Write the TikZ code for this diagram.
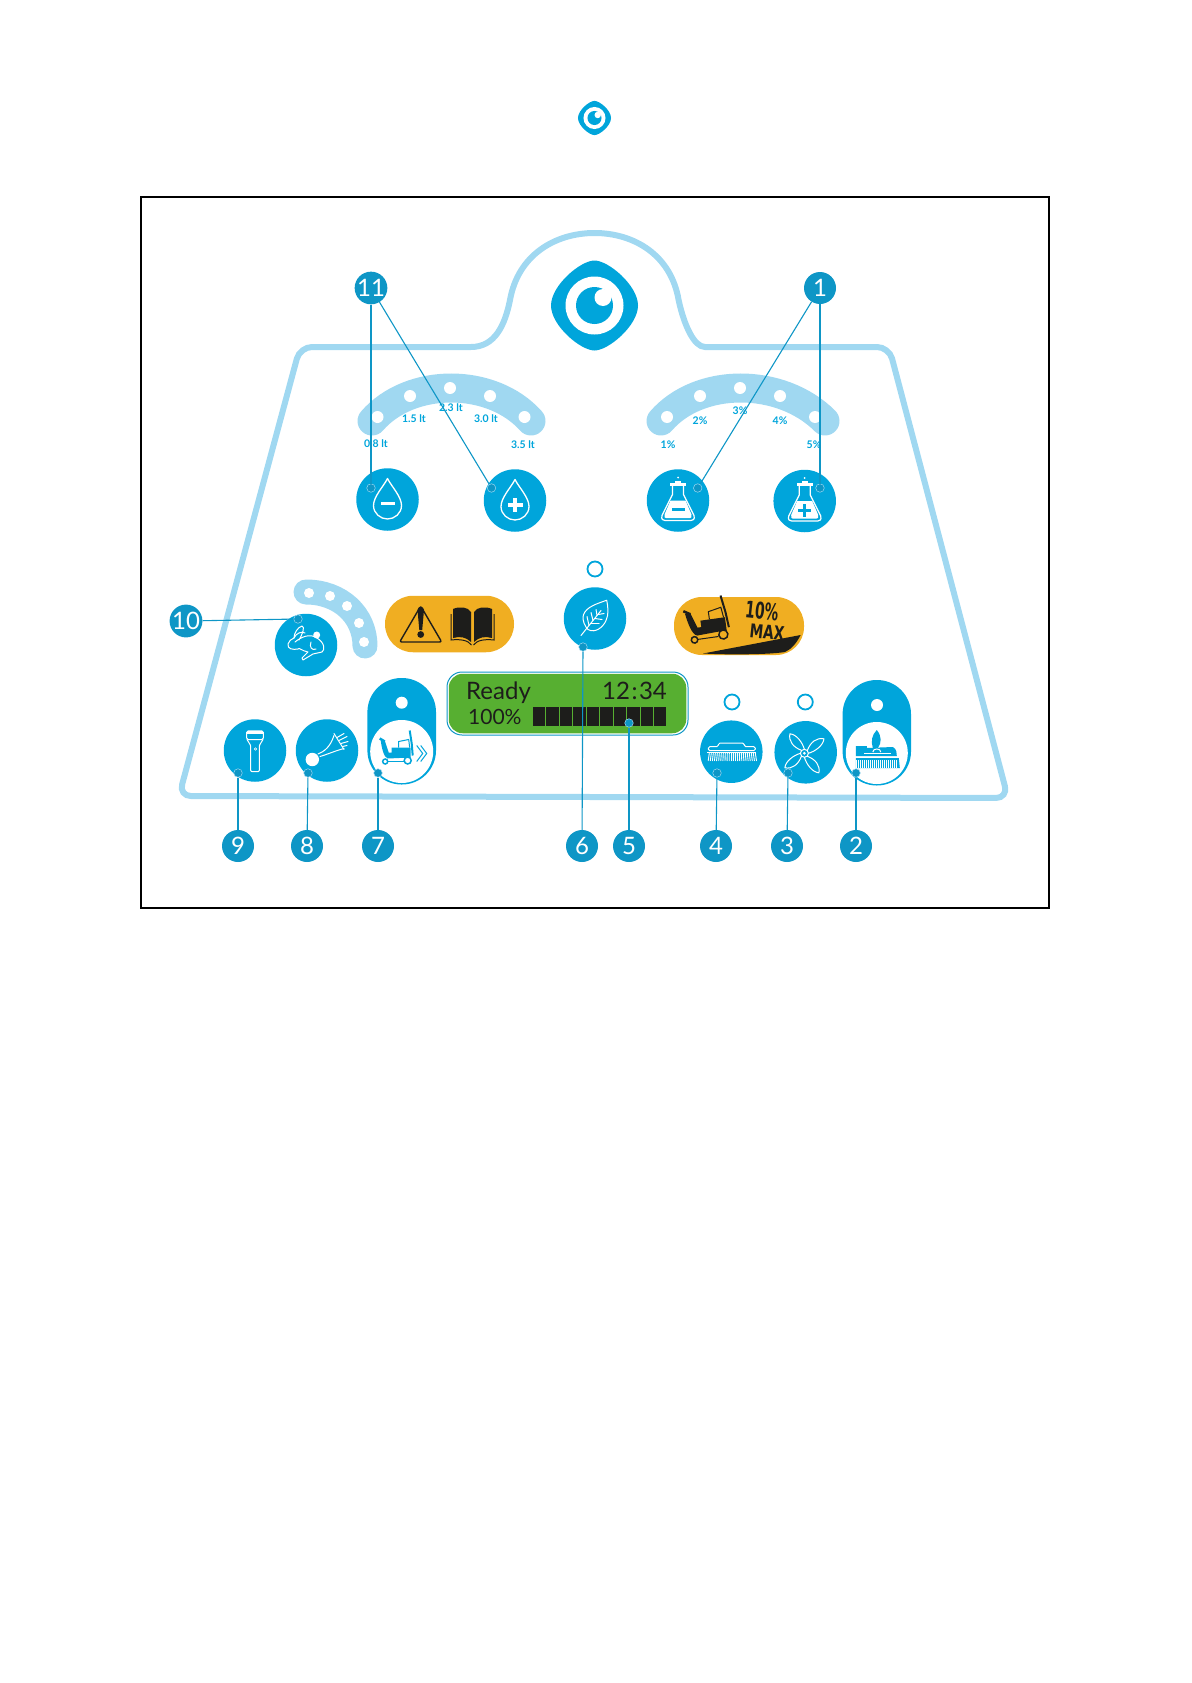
\documentclass[tikz,border=0pt]{standalone}
\usepackage{fontspec}
\setmainfont{Lato}
\newfontfamily\slopefont{DejaVu Sans}
\definecolor{btnblue}{HTML}{00A5DB}
\definecolor{badgeblue}{HTML}{0E96C6}
\definecolor{panelblue}{HTML}{A0D8F1}
\definecolor{amberpill}{HTML}{F0AE22}
\definecolor{lcdgreen}{HTML}{57AF31}
\definecolor{inkdark}{HTML}{1D1D1B}
\tikzset{
  btn/.style={circle,fill=btnblue,minimum size=62.5pt,inner sep=0pt},
  badge/.style={circle,fill=badgeblue,text=white,minimum size=32pt,inner sep=0pt,font=\fontsize{24}{24}\selectfont},
  leaderdot/.style={circle,fill=badgeblue,draw=panelblue,line width=0.5pt,minimum size=8.5pt,inner sep=0pt},
  leader/.style={draw=badgeblue,line width=1.1pt},
  led/.style={circle,draw=btnblue,line width=1.8pt,minimum size=15pt,inner sep=0pt},
  amber/.style={rectangle,rounded corners=28pt,fill=amberpill,inner sep=0pt},
  ltlabel/.style={text=btnblue,inner sep=0pt,font=\fontsize{10.5}{10.5}\selectfont\bfseries},
  lcdtext/.style={text=inkdark,inner sep=0pt,anchor=base west,font=\fontsize{24}{24}\selectfont},
  slopetext/.style={inner sep=0pt,transform shape,rotate=-6,text=inkdark},
  iconline/.style={draw=white,line width=1pt,line join=round,line cap=round},
}
% eye logo, drawn 90 wide
\newcommand{\eyelogo}{
  \fill[btnblue] (0,-45) .. controls (14,-45) and (43.5,-20) .. (43.5,0) .. controls (43.5,20) and (14,45) .. (0,45)
    .. controls (-14,45) and (-43.5,20) .. (-43.5,0) .. controls (-43.5,-20) and (-14,-45) .. cycle;
  \fill[white] (0,0) circle (29);
  \fill[btnblue] (0,0) circle (18.5);
  \fill[white] (8.5,-8) circle (8.5);
}
% drop outline
\newcommand{\dropicon}{
  \draw[iconline,line width=1.3pt] (0,-21) .. controls (4,-13) and (14,-3) .. (14,6) .. controls (14,14) and (7,19.5) .. (0,19.5)
    .. controls (-7,19.5) and (-14,14) .. (-14,6) .. controls (-14,-3) and (-4,-13) .. cycle;
}
% flask outline
\newcommand{\flaskicon}{
  \draw[iconline,line width=1.2pt] (-5.5,-15) -- (-5.5,-6) -- (-16,15) .. controls (-17,19) and (-15,20) .. (-13,20) -- (13,20)
    .. controls (15,20) and (17,19) .. (16,15) -- (5.5,-6) -- (5.5,-15);
  \fill[white] (-8,-18) rectangle (8,-15);
  \fill[white] (-3,-20) rectangle (3,-18);
  \fill[white] (0,-23) circle (1);
  \fill[white] (-7.5,0) -- (7.5,0) -- (13.5,14) .. controls (14,17) and (13,17.5) .. (12,17.5) -- (-12,17.5) .. controls (-13,17.5) and (-14,17) .. (-13.5,14) -- cycle;
}
% ride-on machine
\newcommand{\scootericon}[2]{
  \draw[#1,line width=2.5pt] (-22,-13) -- (-17,-10);
  \fill[#1] (-21,-11) -- (-17,-11) -- (-13,1) -- (-10,1) -- (-10,-4) -- (9,-4) -- (9,6) -- (-14,7) .. controls (-18,6) and (-20,-4) .. cycle;
  \draw[#1,line width=1pt] (-3,-4) -- (-3,-10) -- (7,-12) -- (8,-4);
  \draw[#1,line width=2pt] (8,-21) -- (10,-8) -- (11,4);
  \draw[#1,line width=1pt] (-14,10) -- (2,10);
  \filldraw[fill=#2,draw=#1,line width=1.5pt] (-16.5,10) circle (2.5);
  \filldraw[fill=#2,draw=#1,line width=1.5pt] (6,9) circle (3.5);
}
\begin{document}
\begin{tikzpicture}[x=1pt,y=-1pt]
  \useasboundingbox (0,0) rectangle (1191,1683);

  % Frame and small logo
  \draw[line width=2pt] (141,197) rectangle (1049,908);
  \begin{scope}[shift={(594.5,118)},scale=0.38]
    \eyelogo
  \end{scope}

  % Panel outline
  \draw[panelblue,line width=6pt] (471,347) [rounded corners=12pt] -- (300,347) -- (179,796) -- (1008,798) -- (889,347) -- (717,347) [sharp corners]
    .. controls (694,347) and (684,325) .. (678.6,300) .. controls (671,255) and (634,233) .. (594.5,233)
    .. controls (555,233) and (518,255) .. (510,300) .. controls (505,325) and (495,347) .. (471,347);
  \begin{scope}[shift={(594.5,305.5)}]
    \eyelogo
  \end{scope}

  % Scales
  \draw[panelblue,line width=29pt,line cap=round] (372,421) .. controls (410,377) and (492,377) .. (531,421);
  \draw[panelblue,line width=29pt,line cap=round] (661,421) .. controls (699,377) and (781,377) .. (825,421);
  \draw[panelblue,line width=25pt,line cap=round] (306,592) .. controls (340,592) and (365,615) .. (365,646);
  \foreach \x/\y in {377.5/417,410/396,450/388,490/396,524.5/417,667/417,700/396,740/388,780/396,815/417}
    \fill[white] (\x,\y) circle (6);
  \foreach \x/\y in {309/593,330/596,347/606,359/623,364/642}
    \fill[white] (\x,\y) circle (5);
  \node[ltlabel] (l08) at (376,444) {0.8 lt};
  \node[ltlabel] (l15) at (414,419) {1.5 lt};
  \node[ltlabel] (l23) at (451,408) {2.3 lt};
  \node[ltlabel] (l30) at (486,419) {3.0 lt};
  \node[ltlabel] (l35) at (523,445) {3.5 lt};
  \node[ltlabel] (p1) at (668,445) {1\%};
  \node[ltlabel] (p2) at (700,421) {2\%};
  \node[ltlabel] (p3) at (740,411) {3\%};
  \node[ltlabel] (p4) at (780,421) {4\%};
  \node[ltlabel] (p5) at (814,445) {5\%};

  % Buttons
  \node[btn] (dropminus) at (387.5,499.5) {};
  \node[btn] (dropplus) at (515,500.5) {};
  \node[btn] (flaskminus) at (678,500.5) {};
  \node[btn] (flaskplus) at (804.7,501) {};
  \node[btn] (rabbit) at (306,645) {};
  \node[btn] (leaf) at (595,618.5) {};
  \node[btn] (torch) at (255,750.5) {};
  \node[btn] (horn) at (327,750.5) {};
  \node[btn] (brush) at (731.3,751.7) {};
  \node[btn] (fan) at (805.7,752.3) {};
  \node[led] (ledleaf) at (595,569) {};
  \node[led] (ledbrush) at (732,702) {};
  \node[led] (ledfan) at (805.3,702) {};

  % Tall buttons
  \fill[btnblue,rounded corners=34pt] (367.4,678) rectangle (436,784.5);
  \fill[white] (401.7,751.5) circle (31.5);
  \fill[white] (401.7,702.7) circle (6);
  \fill[btnblue,rounded corners=34pt] (842.6,680) rectangle (911,785.5);
  \fill[white] (876.8,753) circle (31);
  \fill[white] (877,705) circle (6);

  % Drop and flask icons
  \begin{scope}[shift={(387.5,499.5)}]
    \dropicon
    \fill[white] (-7,2) rectangle (7,5.5);
  \end{scope}
  \begin{scope}[shift={(515,500.5)}]
    \dropicon
    \fill[white] (-7.5,2.5) rectangle (7.5,6);
    \fill[white] (-1.7,-3) rectangle (1.7,11.5);
  \end{scope}
  \begin{scope}[shift={(678,500.5)}]
    \flaskicon
    \fill[btnblue] (-6.5,7.5) rectangle (6.5,10.5);
  \end{scope}
  \begin{scope}[shift={(804.7,501)}]
    \flaskicon
    \fill[btnblue] (-6.5,7.5) rectangle (6.5,10.5);
    \fill[btnblue] (-1.5,2.5) rectangle (1.5,15.5);
  \end{scope}

  % Rabbit
  \begin{scope}[shift={(306,645)}]
    \draw[iconline] (-11,-3) .. controls (-5,-8) and (4,-12) .. (11,-7) .. controls (19,-2) and (19,5) .. (16,7) -- (7,9) -- (-3,15) -- (-4,13) -- (2,7)
      .. controls (-4,6) and (-7,2) .. (-8,4) .. controls (-13,5) and (-19,4) .. (-18,-1) .. controls (-17,-4) and (-15,-6) .. (-12,-7)
      .. controls (-12,-12) and (-8,-18) .. (-4,-19) .. controls (-1,-18) and (-3,-12) .. (-7,-5);
    \draw[iconline] (-12,-7) .. controls (-10,-12) and (-4,-14) .. (-1,-12);
    \draw[iconline] (5,-3) .. controls (3,2) and (6,6) .. (10,4);
    \fill[white] (10.7,-10) circle (3.5);
  \end{scope}

  % Warning pill
  \node[amber,minimum width=129pt,minimum height=56.5pt] (warnpill) at (449.5,624) {};
  \draw[inkdark,line width=1.4pt,line join=round,rounded corners=2pt] (420.7,606) -- (441.7,642) -- (399.7,642) -- cycle;
  \fill[inkdark] (417.5,610) .. controls (417.5,606) and (424,606) .. (424,610) -- (422.2,630) -- (419.3,630) -- cycle;
  \fill[inkdark] (420.7,634.5) circle (3.4);
  \fill[inkdark] (453,609) .. controls (460,606) and (468,607) .. (471,612) -- (471,642) .. controls (466,637) and (460,636) .. (453,638) -- cycle;
  \fill[inkdark] (492,609) .. controls (485,606) and (477,607) .. (474,612) -- (474,642) .. controls (479,637) and (485,636) .. (492,638) -- cycle;
  \draw[inkdark,line width=1pt] (451,614) -- (451,640) .. controls (460,639) and (468,640) .. (471.5,645);
  \draw[inkdark,line width=1pt] (494,614) -- (494,640) .. controls (485,639) and (477,640) .. (473.5,645);

  % Slope pill
  \node[amber,minimum width=130pt,minimum height=58pt] (slopepill) at (739,626) {};
  \fill[inkdark] (703,653.5) -- (800.7,635) .. controls (797,642) and (792,649) .. (785,652) .. controls (770,654.5) and (730,655) .. cycle;
  \begin{scope}[shift={(714,624)},rotate=8,scale=1.3]
    \scootericon{inkdark}{amberpill}
  \end{scope}
  \node[slopetext,xscale=0.6,font=\slopefont\fontsize{23}{23}\selectfont\bfseries] (tenpct) at (762,610.5) {10\%};
  \node[slopetext,xscale=0.72,font=\slopefont\fontsize{19}{19}\selectfont\bfseries] (maxtxt) at (767,632) {MAX};

  % Display
  \node[rectangle,rounded corners=15pt,draw=badgeblue,line width=1pt,minimum width=241pt,minimum height=63pt,inner sep=0pt] (lcdframe) at (567.5,703.5) {};
  \node[rectangle,rounded corners=14pt,fill=lcdgreen,minimum width=237.5pt,minimum height=59.5pt,inner sep=0pt] (lcd) at (567.5,703.5) {};
  \node[lcdtext] (ready) at (466,699) {Ready};
  \node[lcdtext] (clock) at (602,699) {12\hspace{1.5pt}:\hspace{1.5pt}34};
  \node[lcdtext,font=\fontsize{21}{21}\selectfont] (pct) at (468,724) {100\%};
  \foreach \i in {0,...,9}
    \fill[inkdark] (533+13.45*\i,707) rectangle +(12.4,19);

  % Torch, horn, brush, fan, leaf icons
  \begin{scope}[shift={(255,750.5)}]
    \draw[iconline,rounded corners=1.5pt] (-8.3,-19.7) rectangle (8.3,-11);
    \fill[white] (-8.3,-19.7) rectangle (8.3,-16.8);
    \draw[iconline,rounded corners=1pt] (-8,-11) -- (-4.3,-5) -- (-4.3,21) -- (4.3,21) -- (4.3,-5) -- (8,-11);
    \draw[iconline,line width=0.6pt] (0.5,-1.5) circle (1.3);
  \end{scope}
  \begin{scope}[shift={(327,750.5)}]
    \fill[white] (-14.7,9) circle (6.7);
    \draw[iconline] (-9,3.5) .. controls (-3,1) and (3,-3) .. (7,-15);
    \draw[iconline] (-7,6) .. controls (0,4) and (9,0) .. (17,-2);
    \draw[iconline] (7,-17) -- (17,-1);
    \draw[iconline] (10,-13) -- (17,-17);
    \draw[iconline] (12,-10) -- (20,-14);
    \draw[iconline] (14,-7) -- (21,-9);
    \draw[iconline] (15.5,-4) -- (20,-5);
  \end{scope}
  \begin{scope}[shift={(731.3,751.7)}]
    \draw[iconline,rounded corners=1.5pt] (-23,-1) -- (-23,-5) -- (-13,-5) -- (-13,-8.5) -- (13,-8.5) -- (13,-5) -- (24,-5) -- (24,-1) -- cycle;
    \fill[white] (-24,0) rectangle (25,1.5);
    \foreach \i in {-11,...,12}
      \draw[iconline,line width=0.9pt] (\i*2,1.5) -- (\i*2.1,9);
  \end{scope}
  \begin{scope}[shift={(804.4,753.3)}]
    \foreach \a in {0,90,180,270}
      \draw[iconline,rotate=\a] (3,-3) .. controls (6,-11) and (12,-16) .. (19.5,-14.5) .. controls (19,-8) and (11,-2) .. (4,0);
    \filldraw[fill=btnblue,draw=white,line width=1pt] (0,0) circle (4);
    \fill[white] (0,0) circle (1.5);
  \end{scope}
  \begin{scope}[shift={(595,618.5)}]
    \draw[iconline] (11.7,-18.3) .. controls (3,-15) and (-9,-12) .. (-11.7,-3.3) .. controls (-13,2) and (-10,8) .. (-7,11)
      .. controls (0,15) and (8,9) .. (11,2) .. controls (14,-4) and (13,-12) .. cycle;
    \draw[iconline] (-14,17) -- (6,-8);
    \draw[iconline] (-6,7) -- (-8,-2);
    \draw[iconline] (-2,2) -- (-4,-6);
    \draw[iconline] (2,-3) -- (1,-9);
    \draw[iconline] (-4,5) -- (4,5);
    \draw[iconline] (0,0) -- (7,1);
    \draw[iconline] (3,-4) -- (9,-5);
  \end{scope}

  % Machine and brush-with-leaf icons
  \begin{scope}[shift={(401.7,751.5)}]
    \scootericon{btnblue}{white}
    \draw[btnblue,line width=1pt] (15,-6) -- (21,2) -- (15,10);
    \draw[btnblue,line width=1pt] (19,-6) -- (25,2) -- (19,10);
  \end{scope}
  \begin{scope}[shift={(876.8,753)}]
    \fill[btnblue] (0,-23) .. controls (5,-17) and (5,-10) .. (1,-5) -- (-4,-5) .. controls (-6,-12) and (-5,-18) .. cycle;
    \fill[btnblue] (-21,-7) -- (-10,-7) -- (-10,-5) -- (16,-6) .. controls (20,-4) and (20,0) .. (20,3) -- (-21,3) -- cycle;
    \draw[white,line width=1pt] (-4,-1) .. controls (-4,-5) and (4,-5) .. (4,-1);
    \fill[white] (-13,0) rectangle (14,1.2);
    \fill[btnblue] (-21,5) -- (22,5) -- (23,15) -- (-21,15) -- cycle;
    \foreach \i in {-10,...,10}
      \draw[white,line width=0.8pt] (\i*2,7) -- (\i*2,15);
  \end{scope}

  % Numbered badges
  \node[badge] (b11) at (371,288) {11};
  \node[badge] (b1) at (820,288) {1};
  \node[badge] (b10) at (186,621) {10};
  \node[badge] (b9) at (238,846) {9};
  \node[badge] (b8) at (307,846) {8};
  \node[badge] (b7) at (378,846) {7};
  \node[badge] (b6) at (582,846) {6};
  \node[badge] (b5) at (629,846) {5};
  \node[badge] (b4) at (716,846) {4};
  \node[badge] (b3) at (787,846) {3};
  \node[badge] (b2) at (856,846) {2};

  % Leader ends
  \node[leaderdot] (d11a) at (371,488) {};
  \node[leaderdot] (d11b) at (491.5,488) {};
  \node[leaderdot] (d1a) at (697.7,488) {};
  \node[leaderdot] (d1b) at (820,488) {};
  \node[leaderdot] (d10) at (298,619) {};
  \node[leaderdot] (d9) at (238,773) {};
  \node[leaderdot] (d8) at (308,773) {};
  \node[leaderdot] (d7) at (378,773) {};
  \node[leaderdot] (d6) at (583,647) {};
  \node[leaderdot] (d5) at (629,723) {};
  \node[leaderdot] (d4) at (717,773) {};
  \node[leaderdot] (d3) at (788,773) {};
  \node[leaderdot] (d2) at (856,773) {};

  % Leaders
  \draw[leader] (b11) -- (d11a);
  \draw[leader] (b11) -- (d11b);
  \draw[leader] (b1) -- (d1a);
  \draw[leader] (b1) -- (d1b);
  \draw[leader] (b10) -- (d10);
  \draw[leader] (b9) -- (d9);
  \draw[leader] (b8) -- (d8);
  \draw[leader] (b7) -- (d7);
  \draw[leader] (b6) -- (d6);
  \draw[leader] (b5) -- (d5);
  \draw[leader] (b4) -- (d4);
  \draw[leader] (b3) -- (d3);
  \draw[leader] (b2) -- (d2);
\end{tikzpicture}
\end{document}
